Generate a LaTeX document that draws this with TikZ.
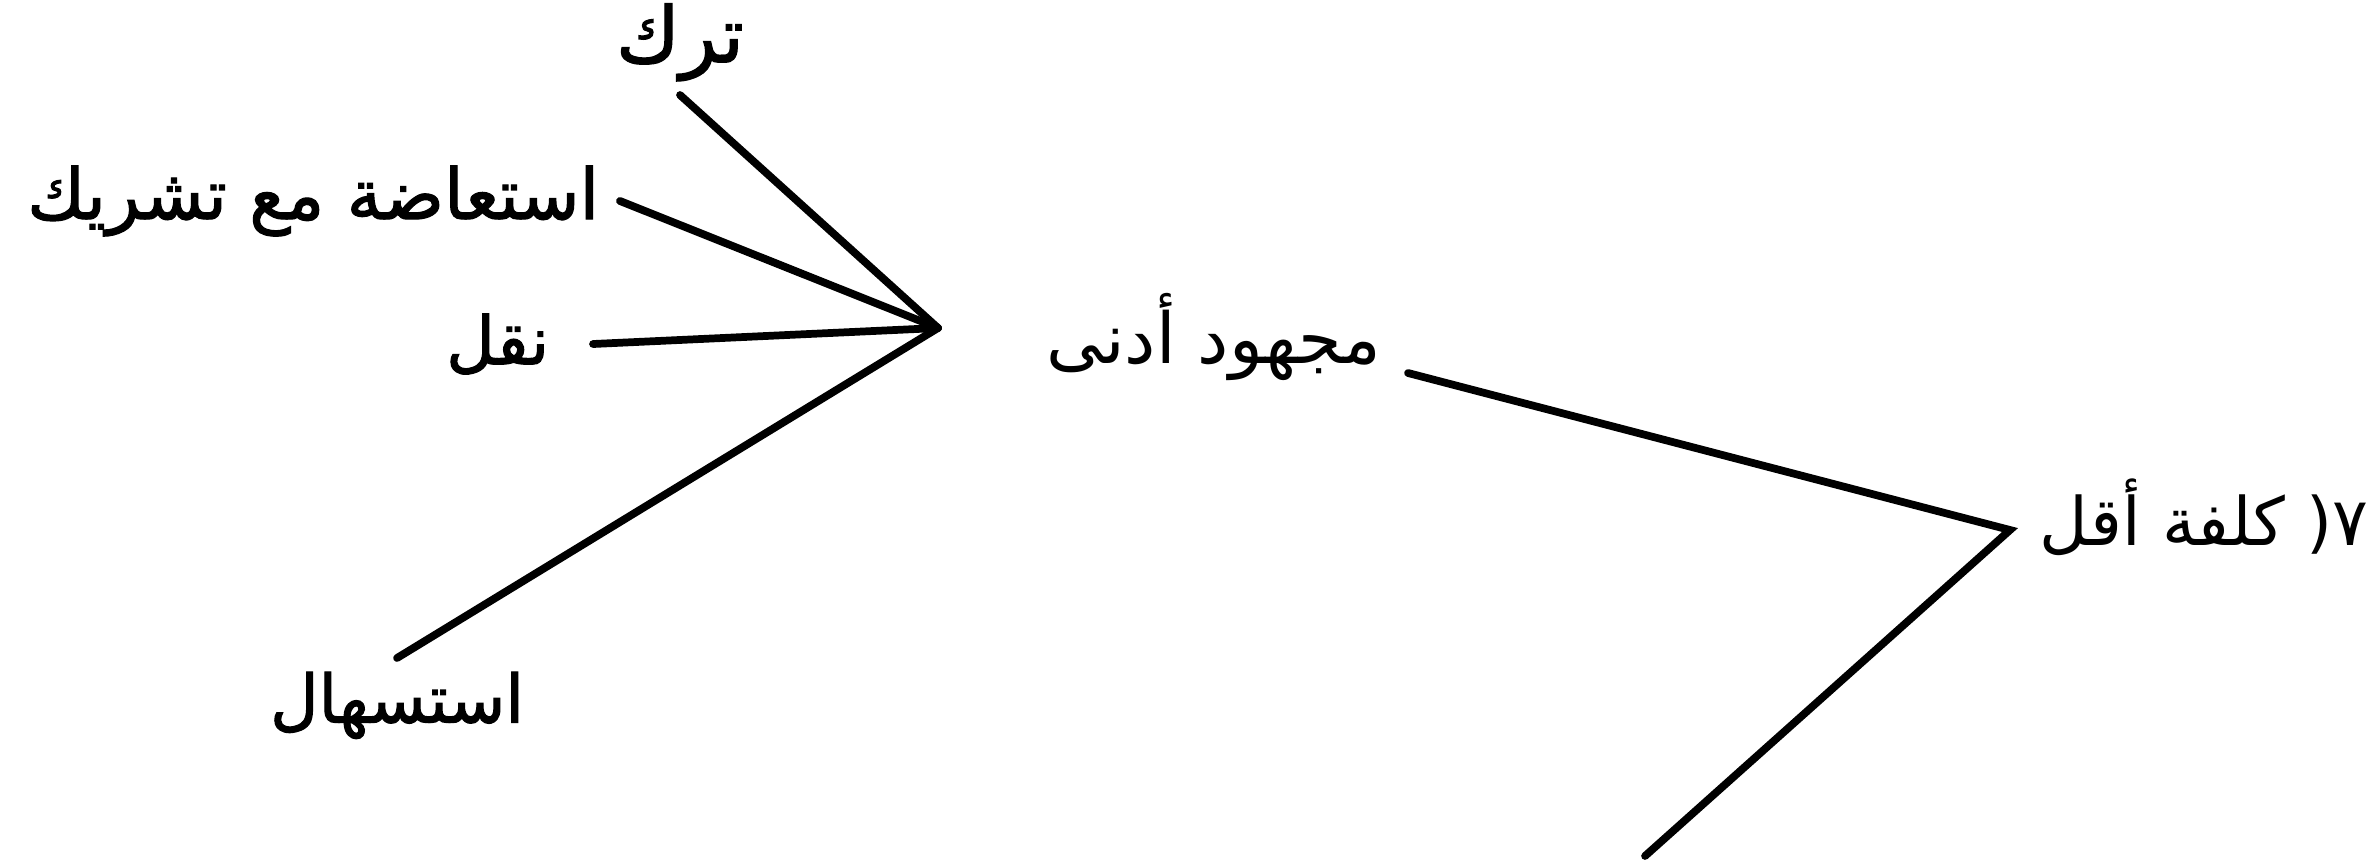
\documentclass[tikz,border=0pt]{standalone}
\usepackage{fontspec}
\newfontfamily\arabicfont[Script=Arabic]{DejaVu Sans}
\newfontfamily\arabicheavy[Script=Arabic, FakeBold=1.6]{DejaVu Sans}
\TeXXeTstate=1
\begin{document}
\begin{tikzpicture}[line width=2.2pt, line cap=round,
  lbl/.style={font=\arabicfont\fontsize{20}{24}\selectfont, inner sep=0pt},
  heavy/.style={lbl, font=\arabicheavy\fontsize{19}{23}\selectfont}]
  \useasboundingbox (0,0) rectangle (23.71,8.59);
  % joints where the branches meet
  \coordinate (hub)    at (9.38,5.31);
  \coordinate (corner) at (20.10,3.29);
  \coordinate (tail)   at (16.45,0.03);
  % left fan: four labels, each with a stroke into the hub
  \node[heavy, anchor=south, inner ysep=1mm, font=\arabicheavy\fontsize{22}{26}\selectfont]
    (tark) at (6.80,7.64) {\beginR ترك\endR};
  \node[heavy, anchor=east, inner xsep=1.7mm, font=\arabicheavy\fontsize{20}{24}\selectfont]
    (istiada) at (6.20,6.58) {\beginR استعاضة مع تشريك\endR};
  \node[heavy, anchor=east, inner xsep=4mm] (naql) at (5.93,5.15) {\beginR نقل\endR};
  \node[heavy, anchor=north, inner ysep=1mm] (istishal) at (3.97,2.01) {\beginR استسهال\endR};
  \draw (tark.south) -- (hub);
  \draw (istiada.east) -- (hub);
  \draw (naql.east) -- (hub);
  \draw (istishal.north) -- (hub);
  % middle label and the long stroke to the right
  \node[lbl, anchor=east] (majhud) at (13.85,5.22) {\beginR مجهود أدنى\endR};
  \coordinate (majhud-out) at (14.08,4.86);
  \draw (majhud-out) -- (corner) -- (tail);
  % numbered label on the right
  \node[lbl, anchor=west, font=\arabicfont\fontsize{19}{23}\selectfont]
    (kulfa) at (20.36,3.42) {\beginR ٧( كلفة أقل\endR};
\end{tikzpicture}
\end{document}
